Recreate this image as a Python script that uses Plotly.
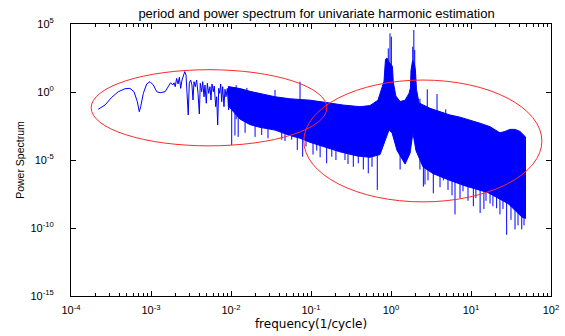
import plotly.graph_objects as go

# ---------------- data ----------------
# low-frequency part (smooth curve followed by sparse spikes)
low_freq = [2.19e-4, 2.66e-4, 3.23e-4, 3.90e-4, 4.73e-4, 5.46e-4, 6.13e-4, 6.75e-4, 7.14e-4, 7.43e-4,
            8.02e-4, 8.83e-4, 9.72e-4, 1.07e-3, 1.18e-3, 1.30e-3, 1.50e-3, 1.64e-3, 1.76e-3,
            1.87e-3, 1.94e-3, 2.01e-3, 2.09e-3, 2.18e-3, 2.26e-3, 2.35e-3, 2.44e-3, 2.54e-3, 2.64e-3,
            2.74e-3, 2.84e-3, 2.92e-3, 3.01e-3, 3.13e-3, 3.25e-3, 3.35e-3, 3.45e-3, 3.58e-3, 3.72e-3,
            3.87e-3, 4.02e-3, 4.13e-3, 4.30e-3, 4.43e-3, 4.60e-3, 4.73e-3, 4.91e-3, 5.06e-3, 5.26e-3,
            5.46e-3, 5.62e-3, 5.79e-3, 6.01e-3, 6.18e-3, 6.44e-3, 6.62e-3, 6.82e-3, 7.02e-3, 7.23e-3,
            7.43e-3, 7.65e-3, 7.87e-3, 8.17e-3, 8.41e-3, 8.66e-3, 8.99e-3, 9.35e-3, 9.72e-3]
low_power = [5.4e-2, 1.10e-1, 4.07e-1, 1.05, 1.74, 1.86, 1.05, 1.95e-1, 3.55e-2, 8.3e-2,
             0.794, 3.89, 5.75, 3.24, 1.05, 0.891, 1.05, 2.45, 4.79,
             3.24, 4.79, 2.45, 10.0, 3.89, 12.0, 1.86, 7.59, 15.1, 31.6,
             17.8, 0.794, 2.04e-2, 4.37, 7.59, 3.24, 0.257, 5.75, 2.45, 7.59,
             0.794, 2.40e-2, 4.37, 1.05, 5.75, 0.447, 3.24, 0.148, 4.37, 0.794,
             2.45, 0.257, 3.89, 1.05, 2.75, 8.3e-2, 0.447, 3.72e-3, 1.86, 0.794,
             3.89, 0.195, 2.45, 8.3e-2, 1.58, 0.447, 1.86, 4.79e-2, 1.41]

# dense part of the spectrum: upper and lower edge of the solid band
band_upper_freq = [9.17e-3, 1.30e-2, 1.73e-2, 2.30e-2, 3.55e-2, 5.46e-2, 7.29e-2, 9.72e-2,
                   0.158, 0.251, 0.410, 0.546, 0.688, 0.750, 0.818, 0.853, 0.891, 0.944,
                   1.01, 1.04, 1.07, 1.15, 1.30, 1.50, 1.68, 1.75, 1.78, 1.86,
                   1.97, 2.02, 2.08, 2.24, 3.07, 4.10, 5.46, 7.29, 9.72,
                   13.0, 17.3, 23.0, 26.6, 30.7, 35.5, 41.0, 48.0]
band_upper_power = [2.51, 1.78, 1.12, 0.794, 0.447, 0.316, 0.282, 0.251,
                    0.166, 0.110, 0.0832, 0.1, 0.251, 1.58, 6.31, 251, 316, 158,
                    100, 79.4, 5.01, 0.501, 0.2, 0.251, 0.794, 2.0, 39.8, 200,
                    100, 39.8, 1.58, 0.158, 0.0631, 0.0355, 0.0204, 0.0141, 0.00871,
                    0.00501, 0.00282, 0.001, 0.00126, 0.00178, 0.00178, 0.00126, 0.000501]
band_lower_freq = [9.17e-3, 1.30e-2, 1.73e-2, 2.30e-2, 3.55e-2, 5.46e-2, 7.29e-2, 9.72e-2,
                   0.141, 0.230, 0.376, 0.546, 0.729, 0.841, 0.944, 1.03, 1.19, 1.50,
                   1.73, 1.88, 2.05, 2.51, 3.35, 5.46, 8.41, 16.3, 29.0, 43.4, 48.0]
band_lower_power = [0.1, 0.01, 0.00398, 0.00251, 0.00158, 6.31e-4, 3.98e-4, 2.0e-4,
                    1e-4, 3.98e-5, 2.0e-5, 1.58e-5, 2.51e-5, 2.51e-4, 1.58e-3, 1e-3, 5.01e-5, 5.01e-6,
                    3.16e-5, 1e-3, 5.01e-5, 3.16e-6, 1e-6, 3.16e-7, 1.26e-7, 3.98e-8, 6.31e-9, 6.31e-10, 5.01e-10]

# isolated spikes sticking out of the band (frequency, low end, high end)
spike_freq = [1.02e-2, 1.12e-2, 1.23e-2, 1.50e-2, 2.0e-2, 2.42e-2, 2.9e-2, 4.31e-2, 4.73e-2, 5.74e-2,
              6.74e-2, 7.87e-2, 8.66e-2,
              0.106, 0.118, 0.13, 0.157, 0.182, 0.205, 0.266, 0.29, 0.338, 0.390, 0.451, 0.520,
              0.579, 0.674,
              1.30, 2.30, 2.54, 2.66, 2.90, 3.38, 4.10, 4.51, 5.16, 5.79, 6.31, 7.29, 7.94, 9.17,
              10.7, 11.5, 13.0, 14.5, 15.4, 17.3, 18.8, 20.9, 23.0, 25.1, 27.9, 31.6, 35.5,
              38.7, 43.1, 46.0,
              1.16e-2, 1.58e-2, 3.55e-2, 7.29e-2, 0.925, 0.972, 1.01, 1.87, 1.93, 1.98,
              2.30, 2.84, 3.76, 4.83]
spike_low = [1.26e-4, 6.31e-4, 5.01e-4, 1e-3, 5.01e-4, 6.9e-4, 3.98e-4, 3.16e-4, 2.51e-4, 3.16e-4,
             5.5e-5, 1.74e-5, 1e-4,
             2.51e-5, 5.01e-5, 1.58e-5, 5.75e-6, 1.74e-5, 1e-5, 1e-5, 5.01e-6, 3.16e-6, 5.75e-6,
             2.0e-6, 1.05e-6, 3.16e-6, 6.31e-8,
             2.0e-6, 2.0e-6, 1.1e-7, 1.58e-7, 3.16e-7, 3.55e-8, 1e-7, 3.16e-7, 6.31e-8, 2.51e-8,
             1e-9, 1.58e-8, 5.01e-8, 1e-8,
             3.98e-9, 1.58e-8, 1.26e-9, 2.51e-9, 1e-8, 6.31e-9, 3.98e-9, 2.82e-9, 1e-9, 2.51e-9,
             3.16e-11, 3.98e-10, 7.94e-11, 1.58e-10, 7.94e-11, 1.58e-10,
             0.01, 0.01, 0.01, 0.01, 1.0, 1.0, 1.0, 1.0, 1.0, 1.0,
             0.01, 0.01, 0.01, 0.001]
spike_high = [0.1, 0.03, 0.03, 0.01, 0.01, 0.003, 0.01, 0.001, 0.01, 0.001,
              0.001, 0.001, 0.001,
              1e-3, 1e-3, 1e-3, 1e-4, 1e-4, 1e-3, 1e-4, 1e-3, 1e-4, 1e-4, 1e-4, 1e-4,
              1e-3, 1e-4,
              1e-4, 1e-4, 1e-5, 1e-5, 1e-5, 1e-5, 1e-5, 1e-5, 1e-5, 1e-5,
              1e-6, 1e-5, 1e-5, 1e-5,
              1e-6, 1e-5, 1e-6, 1e-6, 1e-5, 1e-6, 1e-6, 1e-6, 1e-6, 1e-6,
              1e-6, 1e-6, 1e-6, 1e-6, 1e-6, 1e-6,
              3.16, 2.0, 1.41, 5.75, 1620, 2.04e4, 1.17e4, 2140, 3.63e4, 1230,
              0.316, 1.58, 0.708, 0.0537]

x_tickvals = [1e-4, 1e-3, 1e-2, 1e-1, 1e0, 1e1, 1e2]
x_ticktext = ["10<sup>-4</sup>", "10<sup>-3</sup>", "10<sup>-2</sup>", "10<sup>-1</sup>",
              "10<sup>0</sup>", "10<sup>1</sup>", "10<sup>2</sup>"]
y_tickvals = [1e-15, 1e-10, 1e-5, 1e0, 1e5]
y_ticktext = ["10<sup>-15</sup>", "10<sup>-10</sup>", "10<sup>-5</sup>", "10<sup>0</sup>", "10<sup>5</sup>"]

BLUE = "#0000FF"

# ---------------- build traces ----------------
band_x = band_upper_freq + band_lower_freq[::-1]
band_y = band_upper_power + band_lower_power[::-1]

sx, sy = [], []
for f, lo, hi in zip(spike_freq, spike_low, spike_high):
    sx += [f, f, None]
    sy += [lo, hi, None]

fig = go.Figure()
fig.add_trace(go.Scatter(x=low_freq, y=low_power, mode="lines",
                         line=dict(color=BLUE, width=1), showlegend=False))
fig.add_trace(go.Scatter(x=band_x, y=band_y, mode="lines", fill="toself",
                         fillcolor=BLUE, line=dict(color=BLUE, width=1), showlegend=False))
fig.add_trace(go.Scatter(x=sx, y=sy, mode="lines",
                         line=dict(color=BLUE, width=1), showlegend=False))

# red ellipses highlighting the two regions
fig.add_shape(type="circle", xref="x domain", yref="y domain",
              x0=0.042, x1=0.533, y0=0.552, y1=0.832,
              line=dict(color="#FF2A2A", width=1))
fig.add_shape(type="circle", xref="x domain", yref="y domain",
              x0=0.485, x1=0.981, y0=0.346, y1=0.794,
              line=dict(color="#FF2A2A", width=1))

axis_common = dict(showline=True, linecolor="#000000", linewidth=1, mirror="ticks",
                   ticks="inside", tickcolor="#000000", showgrid=False, zeroline=False,
                   tickfont=dict(family="Liberation Sans, Arial", size=11, color="#000000"))

fig.update_xaxes(type="log", range=[-4, 2], tickmode="array",
                 tickvals=x_tickvals, ticktext=x_ticktext, ticklen=5,
                 ticklabelstandoff=4,
                 minor=dict(ticks="inside", ticklen=3, tickcolor="#000000",
                            tickvals=[k * 10.0 ** e for e in range(-4, 2) for k in range(2, 10)]),
                 title=dict(text="frequency(1/cycle)", standoff=4,
                            font=dict(family="DejaVu Sans", size=12, color="#000000")),
                 **axis_common)
fig.update_yaxes(type="log", range=[-15, 5], tickmode="array",
                 tickvals=y_tickvals, ticktext=y_ticktext, ticklen=5,
                 ticklabelstandoff=14,
                 title=dict(text="Power Spectrum", standoff=3,
                            font=dict(family="Liberation Sans, Arial", size=10.5, color="#000000")),
                 **axis_common)

fig.update_layout(
    width=565, height=336,
    margin=dict(l=71, r=14, t=24, b=40, autoexpand=False),
    paper_bgcolor="white", plot_bgcolor="white",
    font=dict(family="Liberation Sans, Arial", size=11, color="#000000"),
    title=dict(text="period and power spectrum for univariate harmonic estimation",
               x=289 / 565, xanchor="center", xref="paper",
               y=1 - 13 / 336, yref="container", yanchor="middle",
               font=dict(family="Liberation Sans, Arial", size=13, color="#000000")),
)

fig.write_html("out.html")
